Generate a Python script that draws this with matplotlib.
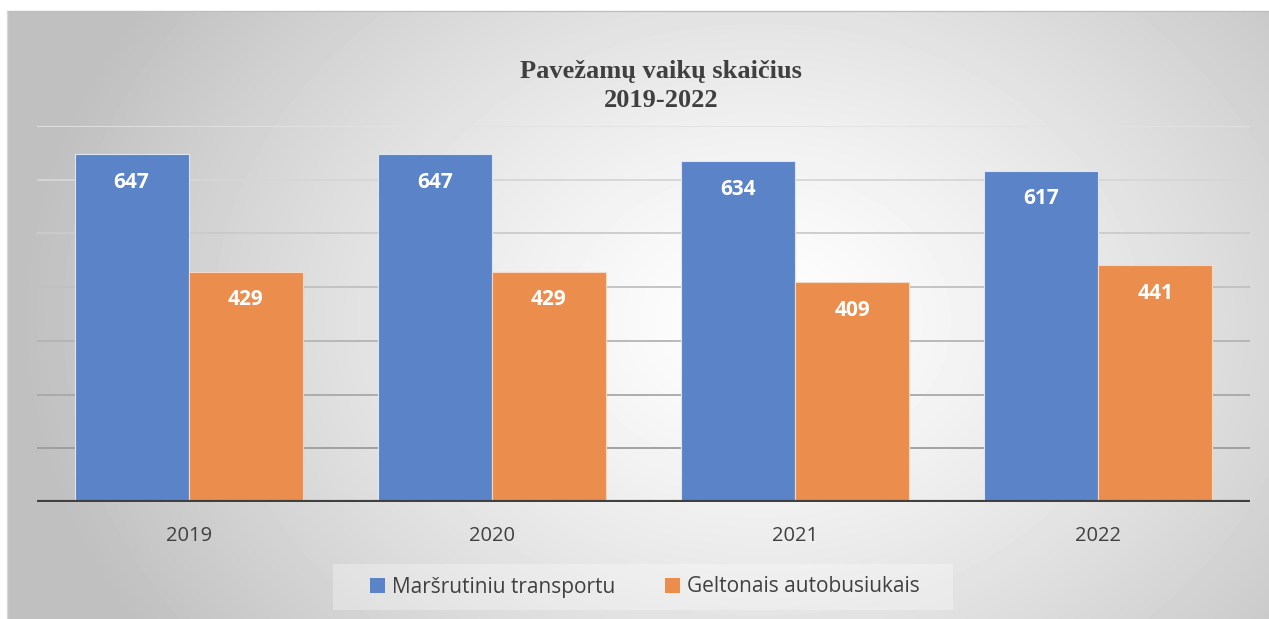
import matplotlib.pyplot as plt
import numpy as np

years = ["2019", "2020", "2021", "2022"]
series_names = ["Maršrutiniu transportu", "Geltonais autobusiukais"]
route_transport = [647, 647, 634, 617]
yellow_buses = [429, 429, 409, 441]
title = "Pavežamų vaikų skaičius\n2019-2022"

W, H = 1269, 619
fig = plt.figure(figsize=(W / 100, H / 100), dpi=100)
fig.patch.set_facecolor("white")

# background panel with radial grey gradient
bg = fig.add_axes([7 / W, 0, 1 - 7 / W, 1 - 11 / H])
xx, yy = np.meshgrid(np.linspace(7, W, 400), np.linspace(11, H, 200))
r = np.sqrt(((xx - 760) / 720) ** 2 + ((yy - 320) / 560) ** 2)
shade = np.clip(1.0 - 0.24 * r ** 1.3, 0.75, 1.0)
bg.imshow(shade, cmap="gray", vmin=0, vmax=1, aspect="auto",
          extent=[0, 1, 0, 1], interpolation="bicubic")
bg.set_axis_off()
fig.add_artist(plt.Line2D([7 / W, 1], [1 - 11 / H, 1 - 11 / H],
                          color="#bfbfbf", lw=1))
fig.add_artist(plt.Line2D([7 / W, 7 / W], [0, 1 - 11 / H],
                          color="#d9d9d9", lw=1))

# faint legend box
fig.patches.append(plt.Rectangle((333 / W, 1 - 610 / H), 620 / W, 46 / H,
                                 transform=fig.transFigure, color="white",
                                 alpha=0.3, lw=0, zorder=0.5))

ax = fig.add_axes([37 / W, 117 / H, 1213 / W, 376 / H])
ax.patch.set_alpha(0)
ax.set_ylim(0, 700)
ax.set_xlim(-0.5, len(years) - 0.5)

grid_colors = ["#e2e2e2", "#d6d6d6", "#cbcbcb", "#c0c0c0", "#b4b4b4", "#a8a8a8", "#9c9c9c"]
for i, gv in enumerate(range(700, 0, -100)):
    ax.axhline(gv, color=grid_colors[i], lw=1.3, zorder=1)

x = np.arange(len(years))
bw = 0.376
b1 = ax.bar(x - bw / 2, route_transport, bw, color="#5B83C8",
            edgecolor="#dfe6f3", linewidth=0.8, zorder=2)
b2 = ax.bar(x + bw / 2, yellow_buses, bw, color="#EB8D4D",
            edgecolor="#f6d9c4", linewidth=0.8, zorder=2)

for bars in (b1, b2):
    for b in bars:
        ax.annotate(str(int(b.get_height())),
                    (b.get_x() + b.get_width() / 2, b.get_height()),
                    xytext=(0, -28), textcoords="offset pixels",
                    ha="center", va="center", color="white",
                    fontsize=15, fontweight="bold", family="Open Sans", zorder=3)

ax.axhline(0, color="#404040", lw=3, zorder=4)
for s in ax.spines.values():
    s.set_visible(False)
ax.set_yticks([])
ax.set_xticks(x)
ax.set_xticklabels(years, fontsize=14.5, color="#404040", family="Open Sans")
ax.tick_params(axis="x", length=0, pad=17)

fig.text(661 / W, 1 - 86 / H, title, ha="center", va="center",
         fontsize=19, fontweight="bold", family="Liberation Serif",
         color="#404040", linespacing=1.3)

leg = fig.legend([b1, b2], series_names, loc="center",
                 bbox_to_anchor=(645 / W, 1 - 587 / H), ncol=2,
                 frameon=False, handlelength=0.7,
                 handleheight=0.75, handletextpad=0.35, columnspacing=2.4,
                 prop={"family": "Open Sans", "size": 15})
for t in leg.get_texts():
    t.set_color("#404040")
for h in leg.legend_handles:
    h.set_edgecolor("none")

fig.savefig("out.png", dpi=100)
